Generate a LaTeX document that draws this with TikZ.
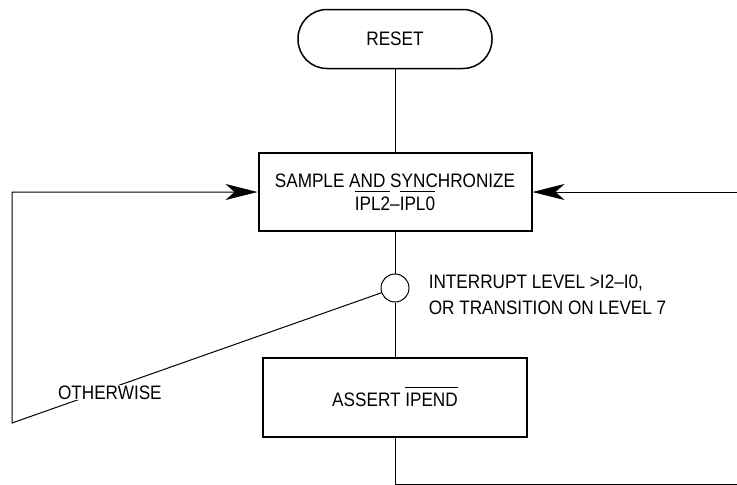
\documentclass[tikz,border=0pt]{standalone}
\usepackage{fontspec}
\setmainfont{Liberation Sans}[FakeStretch=0.88]
\usetikzlibrary{arrows.meta}
\newcommand\ovl[1]{\vbox{\hrule height 0.8pt\kern 5pt\hbox{#1}}}
\begin{document}
\begin{tikzpicture}[x=1pt, y=-1pt, line width=1pt,
        font=\fontsize{19.5}{23}\selectfont,
        term/.style={draw, line width=1.5pt, rounded corners=29pt, minimum width=194pt, minimum height=59pt},
        box/.style={draw, line width=2pt, minimum height=78pt, align=center},
        arr/.style={-{Stealth[length=32pt, width=16pt, inset=9pt]}}]
        \useasboundingbox (0,0) rectangle (737,485);
        \node[term] (reset) at (395,39) {RESET};
        \node[box, minimum width=273pt] (sync) at (395,192) {SAMPLE AND SYNCHRONIZE\\\ovl{IPL2}--\ovl{IPL0}};
        \node[draw, circle, minimum size=28pt, inner sep=0pt] (dec) at (395,288) {};
        \node[anchor=west, align=left, font=\fontsize{19.5}{26.5}\selectfont] (cond) at (425,295) {INTERRUPT LEVEL >I2--I0,\\OR TRANSITION ON LEVEL 7};
        \node[box, minimum width=264pt, minimum height=79pt] (assert) at (395,397) {ASSERT \ovl{IPEND}};
        \coordinate (lcorner) at (12,423);
        \coordinate (rin) at (737,192);
        \coordinate (rout) at (737,484);
        \draw (reset) -- (sync);
        \draw (sync) -- (dec);
        \draw (dec) -- (assert);
        \draw[arr] (dec) -- node[pos=0.735, yshift=-4pt, fill=white, inner sep=1pt] (other) {OTHERWISE} (lcorner) -- (lcorner |- sync) -- (sync);
        \draw[arr] (rin) -- (sync);
        \draw (assert) |- (rout);
    \end{tikzpicture}
\end{document}
